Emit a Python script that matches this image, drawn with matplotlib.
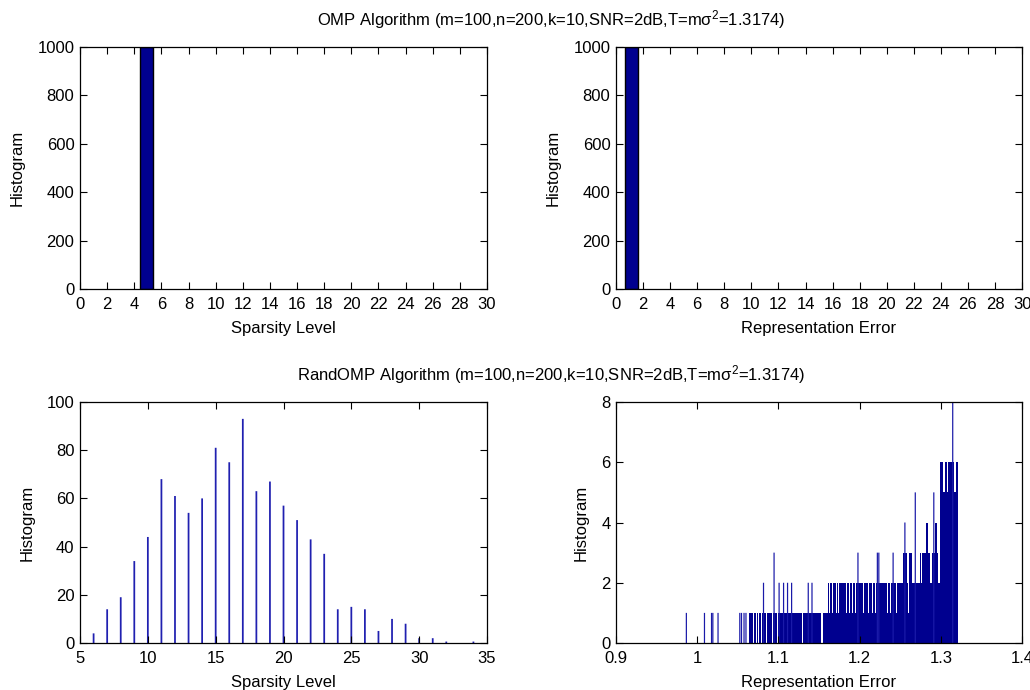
import numpy as np
import matplotlib
matplotlib.use('Agg')
import matplotlib.pyplot as plt

plt.rcParams['font.family'] = ['Liberation Sans', 'DejaVu Sans']
plt.rcParams['mathtext.fontset'] = 'custom'
plt.rcParams['mathtext.rm'] = 'Liberation Sans'
plt.rcParams['mathtext.it'] = 'Liberation Sans'

# ---- data ----
omp_title = 'OMP Algorithm (m=100,n=200,k=10,SNR=2dB,T=m\u03c3$^2$=1.3174)'
rand_title = 'RandOMP Algorithm (m=100,n=200,k=10,SNR=2dB,T=m\u03c3$^2$=1.3174)'

# OMP: every run gives the same sparsity / error
omp_sparsity_center = [4.9]
omp_sparsity_count = [1000]
omp_error_center = [1.16]
omp_error_count = [1000]

# RandOMP sparsity histogram
rand_levels = [6, 7, 8, 9, 10, 11, 12, 13, 14, 15, 16, 17, 18, 19, 20,
               21, 22, 23, 24, 25, 26, 27, 28, 29, 30, 31, 32, 34]
rand_counts = [4, 14, 19, 34, 44, 68, 61, 54, 60, 81, 75, 93, 63, 67, 57,
               51, 43, 37, 14, 15, 14, 5, 10, 8, 2, 2, 0.6, 0.6]

# RandOMP representation error histogram, as runs of bins (left, right, count)
err_run_lo = [1.0640, 1.0668, 1.0698, 1.0738, 1.0760, 1.0798, 1.0822, 1.0858,
              1.0888, 1.0928, 1.0945, 1.0992, 1.1162, 1.1297, 1.1545,
              1.1605, 1.1634, 1.1676, 1.1716, 1.1745, 1.1840, 1.1881, 1.1914,
              1.1955, 1.2054, 1.2116, 1.2162, 1.2203, 1.2348, 1.2388, 1.2459, 1.2605,
              1.2536, 1.2605, 1.2625, 1.2741, 1.2766, 1.2886,
              1.2816, 1.2927,
              1.2985,
              1.2985, 1.3051, 1.3093, 1.3183]
err_run_hi = [1.0660, 1.0690, 1.0728, 1.0752, 1.0790, 1.0812, 1.0850, 1.0880,
              1.0920, 1.0945, 1.0980, 1.1150, 1.1285, 1.1528, 1.3217,
              1.1622, 1.1664, 1.1704, 1.1733, 1.1828, 1.1869, 1.1902, 1.1943,
              1.2042, 1.2104, 1.2150, 1.2191, 1.2336, 1.2376, 1.2447, 1.2590, 1.3217,
              1.2589, 1.2617, 1.2640, 1.2756, 1.2865, 1.2965,
              1.2845, 1.2948,
              1.3217,
              1.3031, 1.3072, 1.3167, 1.3217]
err_run_n = [1, 1, 1, 1, 1, 1, 1, 1,
             1, 1, 1, 1, 1, 1, 1,
             2, 2, 2, 2, 2, 2, 2, 2,
             2, 2, 2, 2, 2, 2, 2, 2, 2,
             3, 3, 3, 3, 3, 3,
             4, 4,
             5,
             6, 6, 6, 6]

# single-bin bars
err_bin_x = [0.9866, 1.0089, 1.0176, 1.0192, 1.0256, 1.0524, 1.0545, 1.0576,
             1.0600, 1.0816, 1.0946, 1.1008, 1.1063, 1.1112, 1.1162, 1.1367,
             1.1413, 1.1979, 1.2218, 1.2236, 1.2412, 1.2557, 1.2685, 1.2913,
             1.3146]
err_bin_n = [1, 1, 1, 1, 1, 1, 1, 1,
             1, 2, 3, 2, 2, 2, 2, 2,
             2, 3, 3, 3, 3, 4, 5, 5,
             8]
err_bin_width = 0.0015

err_ticks = [0.9, 1.0, 1.1, 1.2, 1.3, 1.4]
err_ticklabels = ['0.9', '1', '1.1', '1.2', '1.3', '1.4']

navy = '#00008F'
fs = 12

fig = plt.figure(figsize=(10.3, 6.9), dpi=100)
ax1 = fig.add_axes([0.0777, 0.5812, 0.3951, 0.3507])
ax2 = fig.add_axes([0.5981, 0.5812, 0.3942, 0.3507])
ax3 = fig.add_axes([0.0777, 0.0681, 0.3951, 0.3493])
ax4 = fig.add_axes([0.5981, 0.0681, 0.3942, 0.3493])

ax1.bar(omp_sparsity_center, omp_sparsity_count, width=0.98,
        color=navy, edgecolor='black', linewidth=1)
ax1.set_xlim(0, 30)
ax1.set_ylim(0, 1000)
ax1.set_xticks(range(0, 31, 2))
ax1.set_yticks(range(0, 1001, 200))
ax1.set_xlabel('Sparsity Level', fontsize=fs)

ax2.bar(omp_error_center, omp_error_count, width=0.98,
        color=navy, edgecolor='black', linewidth=1)
ax2.set_xlim(0, 30)
ax2.set_ylim(0, 1000)
ax2.set_xticks(range(0, 31, 2))
ax2.set_yticks(range(0, 1001, 200))
ax2.set_xlabel('Representation Error', fontsize=fs)

bars = ax3.bar(rand_levels, rand_counts, width=0.13, color='#2020B0', linewidth=0)
for b in bars:
    b.set_snap(False)
ax3.set_xlim(5, 35)
ax3.set_ylim(0, 100)
ax3.set_xticks(range(5, 36, 5))
ax3.set_yticks(range(0, 101, 20))
ax3.set_xlabel('Sparsity Level', fontsize=fs)

# runs keep pixel snapping so the dense part stays solid
ax4.bar(err_run_lo, err_run_n, width=np.subtract(err_run_hi, err_run_lo),
        align='edge', color=navy, linewidth=0)
spikes = ax4.bar(err_bin_x, err_bin_n, width=err_bin_width, color='#1A1AA8', linewidth=0)
for b in spikes:
    b.set_snap(False)
ax4.set_xlim(0.9, 1.4)
ax4.set_ylim(0, 8)
ax4.set_xticks(err_ticks)
ax4.set_xticklabels(err_ticklabels)
ax4.set_yticks(range(0, 9, 2))
ax4.set_xlabel('Representation Error', fontsize=fs)

for ax in (ax1, ax2, ax3, ax4):
    ax.set_ylabel('Histogram', fontsize=fs, labelpad=9)
    ax.tick_params(direction='in', top=True, right=True, length=5,
                   width=0.8, labelsize=fs)
    ax.tick_params(axis='x', pad=6)
    ax.tick_params(axis='y', pad=4)
    for s in ax.spines.values():
        s.set_linewidth(0.9)
    ax.xaxis.labelpad = 6

fig.text(551 / 1030, 1 - 20 / 690, omp_title, ha='center', va='center', fontsize=fs)
fig.text(551 / 1030, 1 - 375 / 690, rand_title, ha='center', va='center', fontsize=fs)

fig.savefig('out.png', dpi=100)
